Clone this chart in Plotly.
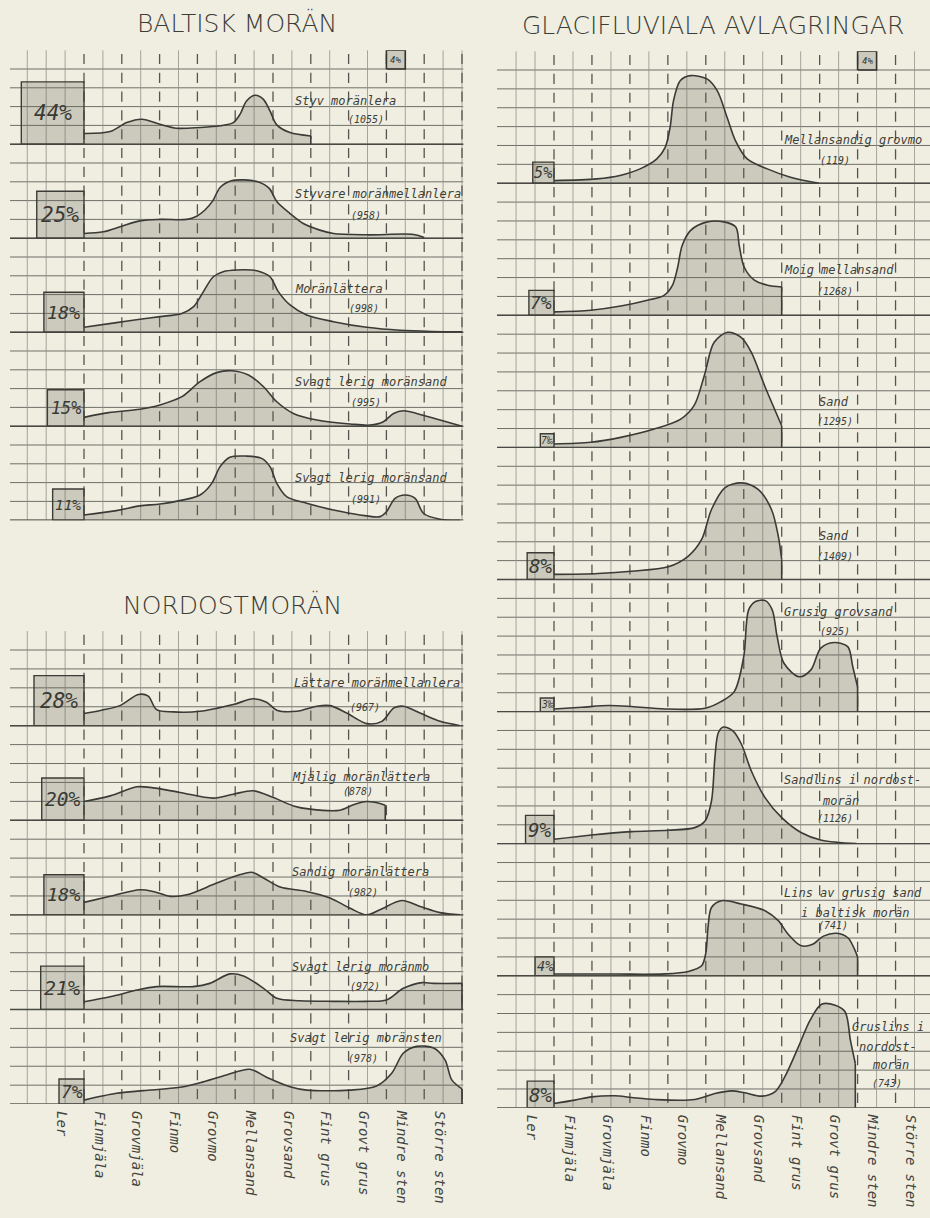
import math
import plotly.graph_objects as go

W, H = 930, 1218
BG = "#efeee1"
INK = "#3a3a36"
GRIDC = "#6f6f68"
FILL = "rgba(95,95,85,0.25)"
MONO = "DejaVu Sans Mono"

CATEGORIES = ["Ler", "Finmjäla", "Grovmjäla", "Finmo", "Grovmo", "Mellansand",
              "Grovsand", "Fint grus", "Grovt grus", "Mindre sten", "Större sten"]

# ---------------- BALTISK MORÄN ----------------
BALTISK_NAMES = [["Styv moränlera"], ["Styvare moränmellanlera"], ["Moränlättera"],
                 ["Svagt lerig moränsand"], ["Svagt lerig moränsand"]]
BALTISK_COUNTS = [1055, 958, 998, 995, 991]
BALTISK_CLAY = [44, 25, 18, 15, 11]
BALTISK_CLAY_TXT = ["44%", "25%", "18%", "15%", "11%"]
BALTISK_X = [
    [0, 0.69, 1.13, 1.53, 2.01, 2.45, 3.07, 3.6, 3.95, 4.13, 4.3, 4.52, 4.74, 4.92, 5.1, 5.45, 6.0],
    [0, 0.51, 1.0, 1.48, 2.01, 2.72, 2.98, 3.2, 3.41, 3.6, 3.9, 4.25, 4.6, 4.9, 5.1, 5.45, 5.8, 6.24, 6.6, 7.48, 8.72, 9.0],
    [0, 0.86, 1.48, 2.01, 2.59, 2.9, 3.16, 3.42, 3.68, 4.04, 4.57, 4.92, 5.14, 5.45, 5.89, 6.6, 7.48, 8.36, 9.2, 10.0],
    [0, 0.65, 1.48, 2.01, 2.59, 3.07, 3.51, 3.91, 4.35, 4.75, 5.1, 5.54, 6.16, 7.04, 7.57, 7.92, 8.19, 8.45, 8.8, 9.42, 10.0],
    [0, 0.86, 1.48, 2.01, 2.63, 3.07, 3.38, 3.6, 3.86, 4.3, 4.7, 4.92, 5.1, 5.36, 5.89, 6.6, 7.3, 7.83, 8.0, 8.23, 8.5, 8.76, 8.98, 9.42, 9.95],
]
BALTISK_Y = [
    [0.57, 0.67, 1.15, 1.33, 1.06, 0.85, 0.89, 0.98, 1.15, 1.6, 2.3, 2.6, 2.4, 1.77, 1.03, 0.62, 0.44],
    [0.25, 0.34, 0.64, 0.92, 1.0, 1.0, 1.17, 1.5, 2.0, 2.7, 3.05, 3.1, 3.0, 2.65, 1.95, 1.31, 0.78, 0.43, 0.25, 0.18, 0.2, 0.04],
    [0.26, 0.51, 0.69, 0.83, 1.0, 1.36, 2.16, 2.95, 3.22, 3.31, 3.27, 2.95, 2.16, 1.45, 0.92, 0.56, 0.26, 0.1, 0.04, 0.02],
    [0.47, 0.72, 0.9, 1.13, 1.57, 2.37, 2.85, 2.95, 2.72, 2.1, 1.3, 0.68, 0.33, 0.12, 0.06, 0.24, 0.68, 0.82, 0.68, 0.33, 0.0],
    [0.28, 0.51, 0.76, 0.86, 1.08, 1.34, 1.96, 2.85, 3.35, 3.41, 3.29, 2.85, 1.96, 1.25, 0.9, 0.54, 0.28, 0.19, 0.45, 1.16, 1.34, 1.16, 0.37, 0.05, 0.0],
]

# ---------------- NORDOSTMORÄN ----------------
NORDOST_NAMES = [["Lättare moränmellanlera"], ["Mjälig moränlättera"], ["Sandig moränlättera"],
                 ["Svagt lerig moränmo"], ["Svagt lerig moränsten"]]
NORDOST_COUNTS = [967, 878, 982, 972, 978]
NORDOST_CLAY = [28, 20, 18, 21, 7]
NORDOST_CLAY_TXT = ["28%", "20%", "18%", "21%", "7%"]
NORDOST_X = [
    [0, 0.46, 0.95, 1.44, 1.7, 1.92, 2.36, 3.07, 3.95, 4.48, 4.83, 5.1, 5.63, 6.16, 6.51, 6.95, 7.48, 7.88, 8.2, 8.45, 8.89, 9.42, 9.95],
    [0, 0.69, 1.4, 1.75, 2.54, 3.42, 3.95, 4.48, 5.01, 5.54, 5.98, 6.77, 7.13, 7.48, 7.83, 7.97],
    [0, 0.69, 1.48, 1.83, 2.28, 2.72, 3.51, 4.13, 4.44, 4.75, 5.19, 5.89, 6.51, 7.04, 7.48, 7.83, 8.41, 8.89, 9.42, 9.95],
    [0, 0.69, 1.4, 1.92, 2.89, 3.33, 3.86, 4.22, 4.75, 5.1, 5.71, 6.6, 7.48, 8.0, 8.45, 8.94, 9.25, 10.0],
    [0, 0.86, 1.57, 2.54, 3.07, 3.77, 4.39, 4.83, 5.45, 5.89, 7.04, 7.74, 8.14, 8.45, 8.8, 9.25, 9.55, 9.73, 10.0],
]
NORDOST_Y = [
    [0.64, 0.82, 1.06, 1.65, 1.56, 0.85, 0.73, 0.76, 1.12, 1.42, 1.24, 0.82, 0.76, 1.03, 1.06, 0.67, 0.11, 0.23, 0.94, 1.03, 0.67, 0.23, 0.0],
    [0.99, 1.29, 1.77, 1.74, 1.47, 1.17, 1.38, 1.56, 1.2, 0.76, 0.59, 0.53, 0.82, 0.99, 0.89, 0.8],
    [0.66, 0.98, 1.33, 1.24, 0.98, 1.06, 1.68, 2.13, 2.25, 1.95, 1.47, 1.24, 0.89, 0.35, 0.0, 0.27, 0.76, 0.44, 0.12, 0.0],
    [0.41, 0.67, 1.03, 1.21, 1.21, 1.38, 1.88, 1.77, 1.12, 0.59, 0.46, 0.43, 0.43, 0.5, 1.12, 1.42, 1.38, 1.38],
    [0.21, 0.57, 0.71, 0.89, 1.13, 1.54, 1.84, 1.42, 0.92, 0.74, 0.74, 0.96, 1.63, 2.7, 3.05, 2.96, 2.34, 1.28, 0.8],
]

# ---------------- GLACIFLUVIALA AVLAGRINGAR ----------------
GLACI_NAMES = [["Mellansandig grovmo"], ["Moig mellansand"], ["Sand"], ["Sand"],
               ["Grusig grovsand"], ["Sandlins i nordost-", "morän"],
               ["Lins av grusig sand", "i baltisk morän"], ["Gruslins i", "nordost-", "morän"]]
GLACI_COUNTS = [119, 1268, 1295, 1409, 925, 1126, 741, 743]
GLACI_CLAY = [5, 7, 0.7, 8, 0.3, 9, 4, 8]
GLACI_CLAY_TXT = ["5%", "7%", "7‰", "8%", "3‰", "9%", "4%", "8%"]
GLACI_X = [
    [0, 1.13, 1.74, 2.27, 2.71, 2.93, 3.06, 3.15, 3.33, 3.59, 4.03, 4.3, 4.56, 4.78, 5.09, 5.62, 6.23, 6.98],
    [0, 0.97, 1.76, 2.46, 2.9, 3.12, 3.25, 3.38, 3.6, 4.04, 4.48, 4.79, 4.88, 5.01, 5.28, 5.63, 6.0],
    [0, 0.97, 1.76, 2.64, 3.34, 3.69, 3.96, 4.22, 4.57, 4.93, 5.2, 5.55, 6.0],
    [0, 1.16, 2.04, 3.01, 3.54, 3.89, 4.15, 4.5, 4.94, 5.38, 5.73, 5.91, 6.0],
    [0, 0.73, 1.43, 2.04, 2.92, 3.98, 4.4, 4.75, 5.0, 5.13, 5.31, 5.57, 5.75, 5.88, 6.06, 6.46, 6.77, 7.03, 7.38, 7.74, 7.87, 8.0],
    [0, 0.99, 2.04, 3.01, 3.71, 3.98, 4.15, 4.24, 4.33, 4.46, 4.72, 4.94, 5.2, 5.56, 6.0, 6.52, 7.05, 7.97],
    [0, 1.6, 2.92, 3.54, 3.89, 4.0, 4.06, 4.15, 4.41, 4.94, 5.56, 5.91, 6.17, 6.5, 6.8, 7.1, 7.45, 7.75, 7.92, 8.0],
    [0, 0.55, 0.99, 1.6, 2.04, 2.66, 3.71, 4.24, 4.68, 5.03, 5.47, 5.82, 6.08, 6.44, 6.75, 7.05, 7.41, 7.67, 7.81, 7.94],
]
GLACI_Y = [
    [0.14, 0.23, 0.41, 0.76, 1.29, 1.9, 2.97, 4.38, 5.44, 5.7, 5.53, 4.91, 3.5, 2.26, 1.29, 0.76, 0.32, 0.0],
    [0.18, 0.27, 0.49, 0.8, 1.06, 1.59, 2.47, 3.71, 4.5, 4.95, 4.95, 4.68, 3.71, 2.56, 1.86, 1.59, 1.5],
    [0.18, 0.27, 0.53, 0.97, 1.5, 2.21, 3.8, 5.57, 6.1, 5.83, 5.04, 3.27, 1.15],
    [0.27, 0.32, 0.44, 0.67, 1.24, 2.12, 3.71, 4.86, 5.12, 4.77, 3.71, 2.3, 1.06],
    [0.14, 0.23, 0.32, 0.27, 0.14, 0.18, 0.53, 1.06, 2.91, 5.39, 5.83, 5.88, 5.39, 3.97, 2.56, 1.85, 2.21, 3.36, 3.66, 3.44, 2.4, 1.3],
    [0.23, 0.46, 0.64, 0.71, 0.85, 1.2, 2.26, 4.56, 5.88, 6.18, 5.97, 5.27, 3.85, 2.44, 1.38, 0.58, 0.18, 0.0],
    [0.09, 0.09, 0.1, 0.23, 0.53, 1.2, 2.6, 3.62, 3.98, 3.8, 3.45, 2.92, 2.2, 1.6, 1.65, 2.1, 2.25, 2.0, 1.4, 1.0],
    [0.23, 0.41, 0.58, 0.64, 0.55, 0.44, 0.44, 0.76, 0.9, 0.8, 0.62, 0.85, 1.64, 3.23, 4.65, 5.49, 5.44, 5.09, 3.59, 2.35],
]

SCALE_UNIT = 4  # one grid cell = 4 %

# ---------------- layout geometry (pixels) ----------------
SECTIONS = [
    dict(heading="BALTISK MORÄN", hx=237, hy=23, x0=84.0, step=37.8, left=10.0, right=463.5,
         top=69.0, row=18.8, nlines=25, base_lines=[4, 9, 14, 19, 24], prow=5, thin_from=-1.5,
         labels=False, names=BALTISK_NAMES, counts=BALTISK_COUNTS, clay=BALTISK_CLAY,
         clay_txt=BALTISK_CLAY_TXT, xs=BALTISK_X, ys=BALTISK_Y,
         name_pos=[[(5.53, 2.29)], [(5.53, 2.33)], [(5.53, 2.29)], [(5.53, 2.33)], [(5.53, 2.23)]],
         name_anchor=["left"] * 5,
         count_pos=[(7.46, 1.33), (7.46, 1.22), (7.4, 1.28), (7.45, 1.28), (7.45, 1.12)]),
    dict(heading="NORDOSTMORÄN", hx=232, hy=605, x0=84.0, step=37.8, left=10.0, right=463.5,
         top=650.0, row=18.92, nlines=25, base_lines=[4, 9, 14, 19, 24], prow=5, thin_from=-1.5,
         labels=True, names=NORDOST_NAMES, counts=NORDOST_COUNTS, clay=NORDOST_CLAY,
         clay_txt=NORDOST_CLAY_TXT, xs=NORDOST_X, ys=NORDOST_Y,
         name_pos=[[(5.5, 2.27)], [(5.45, 2.27)], [(5.45, 2.27)], [(5.45, 2.27)], [(5.4, 3.49)]],
         name_anchor=["left"] * 5,
         count_pos=[(7.43, 0.96), (7.25, 1.52), (7.38, 1.16), (7.43, 1.22), (7.38, 2.43)]),
    dict(heading="GLACIFLUVIALA AVLAGRINGAR", hx=713, hy=25, x0=554.0, step=37.95, left=497.0,
         right=930.0, top=70.0, row=18.87, nlines=56, base_lines=[6, 13, 20, 27, 34, 41, 48, 55],
         prow=7, thin_from=-1.0, labels=True, names=GLACI_NAMES, counts=GLACI_COUNTS,
         clay=GLACI_CLAY, clay_txt=GLACI_CLAY_TXT, xs=GLACI_X, ys=GLACI_Y,
         name_pos=[[(6.02, 2.28)], [(6.02, 2.38)], [(7.39, 2.38)], [(7.39, 2.33)], [(6.02, 5.3)],
                   [(6.02, 3.39), (7.55, 2.28)], [(6.02, 4.4), (7.94, 3.34)],
                   [(8.81, 4.29), (8.81, 3.23), (8.86, 2.28)]],
         name_anchor=["left", "left", "center", "center", "left", "mixed", "mixed", "center"],
         count_pos=[(7.41, 1.22), (7.41, 1.27), (7.41, 1.36), (7.41, 1.22), (7.41, 4.24),
                    (7.41, 1.32), (7.36, 2.65), (8.78, 1.27)]),
]

fig = go.Figure()
layout = dict(width=W, height=H, margin=dict(l=0, r=0, t=0, b=0), paper_bgcolor=BG,
              plot_bgcolor="rgba(0,0,0,0)", showlegend=False, annotations=[])

yidx = 0
for si, S in enumerate(SECTIONS):
    xname = "x" if si == 0 else f"x{si + 1}"
    xkey = "xaxis" if si == 0 else f"xaxis{si + 1}"
    xr = [(S["left"] - S["x0"]) / S["step"], (S["right"] - S["x0"]) / S["step"]]
    bottom_px = S["top"] + (S["nlines"] - 1) * S["row"]
    top_px = S["top"] - S["row"]

    # grid axis
    yidx += 1
    gy = "y" if yidx == 1 else f"y{yidx}"
    gykey = "yaxis" if yidx == 1 else f"yaxis{yidx}"
    layout[gykey] = dict(domain=[1 - bottom_px / H, 1 - top_px / H], range=[S["nlines"] - 1, -1],
                         visible=False, fixedrange=True)
    xa = dict(domain=[S["left"] / W, S["right"] / W], range=xr, anchor=gy, showgrid=False,
              zeroline=False, showline=False, fixedrange=True)
    if S["labels"]:
        xa.update(tickmode="array", tickvals=[k - 0.6 for k in range(len(CATEGORIES))],
                  ticktext=CATEGORIES, tickangle=90, ticks="", ticklabelstandoff=6,
                  tickfont=dict(family=MONO, size=14, color="#45453f", style="italic"))
    else:
        xa.update(showticklabels=False, ticks="")
    layout[xkey] = xa

    n = S["nlines"]
    # horizontal grid lines
    hx, hy = [], []
    for k in range(n):
        hx += [xr[0], xr[1], None]
        hy += [k, k, None]
    fig.add_trace(go.Scatter(x=hx, y=hy, mode="lines", line=dict(color=GRIDC, width=1),
                             xaxis=xname, yaxis=gy, hoverinfo="skip"))
    # thin vertical lines
    vx, vy = [], []
    v = S["thin_from"]
    while v <= 10.01:
        if abs(v - round(v)) > 0.01 or v < 0 or abs(v - 10) < 0.01:
            vx += [v, v, None]
            vy += [-1, n - 1, None]
        v += 0.5
    fig.add_trace(go.Scatter(x=vx, y=vy, mode="lines", line=dict(color="#90908a", width=0.8),
                             xaxis=xname, yaxis=gy, hoverinfo="skip"))
    # dark dashes on category boundaries
    dx, dy = [], []
    for c in range(0, 11):
        for r in range(-1, n - 1):
            dx += [c, c, None]
            dy += [r + 0.2, r + 0.74, None]
    fig.add_trace(go.Scatter(x=dx, y=dy, mode="lines", line=dict(color="#55554f", width=1.3),
                             xaxis=xname, yaxis=gy, hoverinfo="skip"))
    # panel baselines (bolder)
    bx, by = [], []
    for b in S["base_lines"]:
        bx += [xr[0], xr[1], None]
        by += [b, b, None]
    fig.add_trace(go.Scatter(x=bx, y=by, mode="lines", line=dict(color="#4a4a44", width=1.4),
                             xaxis=xname, yaxis=gy, hoverinfo="skip"))
    # 4 % scale key (one grid cell)
    if si != 1:
        fig.add_trace(go.Scatter(x=[8, 8.5, 8.5, 8, 8], y=[0, 0, -1, -1, 0], mode="lines",
                                 fill="toself", fillcolor=FILL, line=dict(color="#33332f", width=1.6),
                                 xaxis=xname, yaxis=gy, hoverinfo="skip"))
        layout["annotations"].append(dict(x=8.25, y=-0.5, xref=xname, yref=gy, text=f"{SCALE_UNIT}%",
                                          showarrow=False, font=dict(family=MONO, size=9, color="#333",
                                                                     style="italic")))
    # heading
    layout["annotations"].append(dict(x=S["hx"] / W, y=1 - S["hy"] / H, xref="paper", yref="paper",
                                      text=S["heading"], showarrow=False, xanchor="center", yanchor="middle",
                                      font=dict(family="DejaVu Sans", size=25, color="#3c3c38", weight=200)))

    # panels
    for pi, b in enumerate(S["base_lines"]):
        yidx += 1
        py = f"y{yidx}"
        pykey = f"yaxis{yidx}"
        base_px = S["top"] + b * S["row"]
        nr = S["prow"]
        layout[pykey] = dict(domain=[1 - base_px / H, 1 - (base_px - nr * S["row"]) / H],
                             range=[0, nr], visible=False, fixedrange=True)
        xs, ys = S["xs"][pi], S["ys"][pi]
        fig.add_trace(go.Scatter(x=xs, y=ys, mode="lines", line=dict(color=INK, width=1.6, shape="spline",
                                                                     smoothing=0.9),
                                 fill="tozeroy", fillcolor=FILL, xaxis=xname, yaxis=py, hoverinfo="skip"))
        if ys[-1] > 0.05:
            fig.add_trace(go.Scatter(x=[xs[-1], xs[-1]], y=[ys[-1], 0], mode="lines",
                                     line=dict(color=INK, width=1.6), xaxis=xname, yaxis=py,
                                     hoverinfo="skip"))
        # clay box: area proportional to clay percentage (one cell = SCALE_UNIT %)
        p = S["clay"][pi]
        side = max(math.sqrt(p / SCALE_UNIT), 0.72)  # cells (rows); width in x units = side/2
        bw = side / 2
        fig.add_trace(go.Scatter(x=[-bw, 0, 0, -bw, -bw], y=[0, 0, side, side, 0], mode="lines",
                                 fill="toself", fillcolor=FILL, line=dict(color="#3c3c37", width=1.4),
                                 xaxis=xname, yaxis=py, hoverinfo="skip"))
        txt = S["clay_txt"][pi]
        side_px = side * S["row"]
        fs = min(21, 0.47 * side_px * 3 / len(txt) * 0.98)
        if len(txt) == 2:
            fs = min(19, 0.72 * side_px)
        layout["annotations"].append(dict(x=-bw / 2, y=side / 2, xref=xname, yref=py, text=txt,
                                          showarrow=False, xanchor="center", yanchor="middle",
                                          font=dict(family=MONO, size=max(fs, 7.5), color="#3a3a35",
                                                    style="italic")))
        # names
        for li, line in enumerate(S["names"][pi]):
            nx, ny = S["name_pos"][pi][li]
            anc = S["name_anchor"][pi]
            if anc == "mixed":
                anc = "left" if li == 0 else "center"
            layout["annotations"].append(dict(x=nx, y=ny, xref=xname, yref=py, text=line, showarrow=False,
                                              xanchor=anc, yanchor="middle",
                                              font=dict(family=MONO, size=12, color="#3e3e39",
                                                        style="italic")))
        cx, cy = S["count_pos"][pi]
        layout["annotations"].append(dict(x=cx, y=cy, xref=xname, yref=py, text=f"({S['counts'][pi]})",
                                          showarrow=False, xanchor="center", yanchor="middle",
                                          font=dict(family=MONO, size=10, color="#3e3e39", style="italic")))

fig.update_layout(**layout)
fig.write_html("out.html", config={"displayModeBar": False},
               post_script="document.body.style.margin='0';document.body.style.padding='0';"
                           "document.documentElement.style.overflow='hidden';")
